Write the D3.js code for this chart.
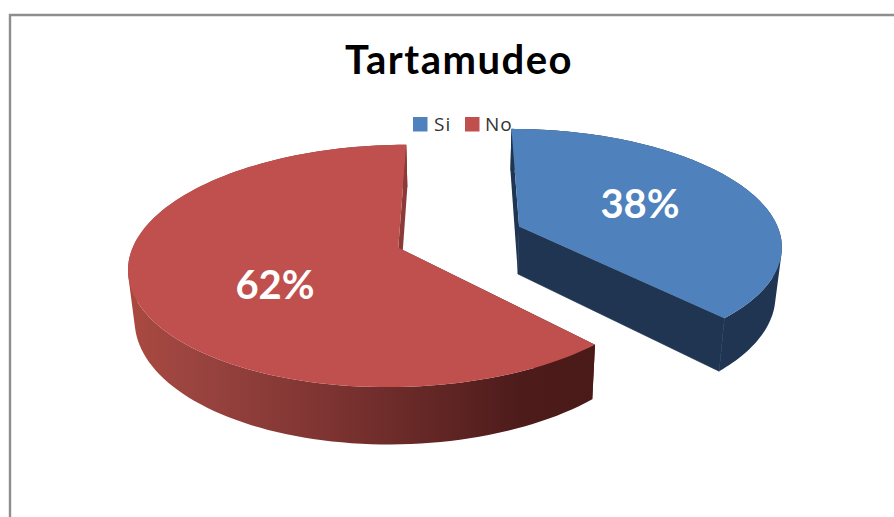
<!DOCTYPE html>
<html><head><meta charset="utf-8">
<script src="https://cdnjs.cloudflare.com/ajax/libs/d3/7.8.5/d3.min.js"></script>
<style>html,body{margin:0;padding:0;background:#fff;overflow:hidden}svg{display:block}</style>
</head><body><svg id="c" width="894" height="517"></svg>
<script>
const categories = ["Si", "No"];
const seriesValues = [38, 62];
const labels = ["38%", "62%"];
const title = "Tartamudeo";
const topColors = ["#4f81bd", "#c0504d"];

const svg = d3.select("#c");
const W = 894, H = 517;

// Perspective model of the exploded disc
const vx = 459.5, y0 = 237, R = 262, Ry = 115.2, persp = 0.149, explode = 0.248, depth = 48, shrink = 0.02;
function project(X, V, Z) {
  const k = 1 / (1 - persp * V);
  return [vx + X * R * k * (1 - shrink * Z), y0 + (V * Ry + Z * depth) * k];
}
const pie = d3.pie().value(d => d).sort(null).startAngle(0).endAngle(2 * Math.PI);
const arcs = pie(seriesValues);
const line = d3.line();

const defs = svg.append("defs");
const grad = defs.append("linearGradient").attr("id", "wallRed").attr("gradientUnits", "userSpaceOnUse")
  .attr("x1", 135).attr("x2", 594).attr("y1", 0).attr("y2", 0);
grad.selectAll("stop").data([[0, "#a8493f"], [0.12, "#9b4440"], [0.45, "#7a3230"], [0.85, "#4c1b1a"], [1, "#4a1a18"]])
  .join("stop").attr("offset", d => d[0]).attr("stop-color", d => d[1]);

// frame
svg.append("path").attr("d", `M10 ${H}V15H${W}`).attr("fill", "none").attr("stroke", "#8e8e8e").attr("stroke-width", 2.4);

// title
svg.append("text").text(title).attr("x", 459).attr("y", 74).attr("text-anchor", "middle")
  .attr("font-family", "Lato").attr("font-weight", 700).attr("font-size", 40).attr("letter-spacing", 1.5).attr("fill", "#000");

// legend
const legendX = [[413, 434], [465, 485]];
const lg = svg.append("g").selectAll("g").data(categories).join("g");
lg.append("rect").attr("x", (d, i) => legendX[i][0]).attr("y", 117).attr("width", 14.5).attr("height", 14.5)
  .attr("fill", (d, i) => topColors[i]);
lg.append("text").text(d => d).attr("x", (d, i) => legendX[i][1]).attr("y", 131)
  .attr("font-family", "Open Sans").attr("font-size", 19).attr("letter-spacing", 1).attr("fill", "#333");

// slices
arcs.forEach((a, i) => {
  const mid = (a.startAngle + a.endAngle) / 2;
  const ex = Math.sin(mid) * explode, ev = -Math.cos(mid) * explode;
  const pt = (ang, Z) => project(ex + Math.sin(ang), ev - Math.cos(ang), Z);
  const apex = Z => project(ex, ev, Z);
  const angs = d3.range(0, 121).map(t => a.startAngle + (a.endAngle - a.startAngle) * t / 120);
  const g = svg.append("g");
  const wallFill = i === 1 ? "url(#wallRed)" : "#1f3552";
  const face = (ang, fill, sw) => g.append("path")
    .attr("d", line([apex(0), pt(ang, 0), pt(ang, 1), apex(1)]) + "Z")
    .attr("fill", fill).attr("stroke", sw ? fill : "none").attr("stroke-width", sw);
  // hidden/first radial face
  face(a.startAngle, i === 1 ? "#4a1a18" : "#1f3552", 0);
  // outer wall: one path of consistently wound quads, so that the silhouette stays filled without seams
  const wallD = d3.pairs(angs).map(([s, e]) => {
    const q = [pt(s, 0), pt(e, 0), pt(e, 1), pt(s, 1)];
    if (d3.polygonArea(q) < 0) q.reverse();
    return line(q) + "Z";
  }).join("");
  g.append("path").attr("d", wallD).attr("fill", wallFill).attr("fill-rule", "nonzero");
  // second radial face
  face(a.endAngle, i === 1 ? "#8a3a38" : "#1f3552", i === 1 ? 0 : 0.7);
  // top face
  const top = [apex(0)].concat(angs.map(t => pt(t, 0)));
  g.append("path").attr("d", line(top) + "Z").attr("fill", topColors[i]);
});

// value labels
const labelPos = [[640, 218], [275, 299]];
svg.append("g").selectAll("text").data(labels).join("text").text(d => d)
  .attr("x", (d, i) => labelPos[i][0]).attr("y", (d, i) => labelPos[i][1]).attr("text-anchor", "middle")
  .attr("font-family", "Lato").attr("font-weight", 700).attr("font-size", 40).attr("fill", "#fff");
</script></body></html>
